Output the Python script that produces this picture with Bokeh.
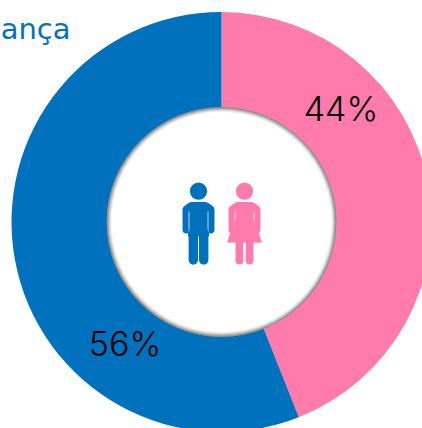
import math
from bokeh.plotting import figure
from bokeh.embed import file_html
from bokeh.resources import INLINE
from bokeh.core.properties import value

labels = ["44%", "56%"]
shares = [44, 56]
colors = ["#FF7BAC", "#0071BC"]
title_text = "ança"
W, H = 422, 428
p = figure(width=W, height=H, x_range=(0, W), y_range=(0, H), toolbar_location=None,
           output_backend="svg", min_border=0, outline_line_color=None,
           background_fill_color="white", border_fill_color="white",
           margin=(0, 0, 0, 0))
p.axis.visible = False
p.grid.visible = False
Y = lambda v: H - v
cx, cy = 221, Y(221.5)
R, r = 210, 114.5

# donut
start = math.pi / 2
for s, c in zip(shares, colors):
    sweep = 2 * math.pi * s / sum(shares)
    p.annular_wedge([cx], [cy], inner_radius=r, outer_radius=R,
                    start_angle=start - sweep, end_angle=start,
                    fill_color=c, line_color=None)
    start -= sweep

# soft shadow of the centre disc
for rad, c in [(115, "#8c8c8c"), (114, "#a6a6a6"), (113, "#c4c4c4"), (112, "#dedede"), (111, "#f2f2f2")]:
    p.circle([cx], [cy], radius=rad, fill_color=c, line_color=None)
p.circle([cx], [cy], radius=110, fill_color="white", line_color=None)

def stroke(xs, ys, color, w):
    p.line(xs, [Y(v) for v in ys], line_color=color, line_width=w, line_cap="round", line_join="round")

def person(x0, color, woman):
    p.circle([x0], [Y(190.7)], radius=8.6, fill_color=color, line_color=None)
    # rounded shoulders and arms
    stroke([x0 - 12, x0 - 12, x0 - 7, x0 + 7, x0 + 12, x0 + 12],
           [229, 209, 205.5, 205.5, 209, 229], color, 8)
    # torso
    p.quad(left=[x0 - 10.5], right=[x0 + 10.5], top=[Y(203)], bottom=[Y(236)], fill_color=color, line_color=None)
    p.quad(left=[x0 - 12], right=[x0 + 12], top=[Y(204)], bottom=[Y(212)], fill_color=color, line_color=None)
    for d in (-1, 1):
        p.line([x0 + d * 9.5] * 2, [Y(211), Y(232)], line_color="white", line_width=1, line_alpha=.7)
    if woman:
        p.patch([x0 + a for a in [-9, 9, 17.5, -17.5]], [Y(b) for b in [219, 219, 242, 242]],
                fill_color=color, line_color=None)
        stroke([x0 - 5.1, x0 - 5.1], [240, 260], color, 7.8)
        stroke([x0 + 5.1, x0 + 5.1], [240, 260], color, 7.8)
    else:
        stroke([x0 - 5.2, x0 - 5.2], [232, 259.5], color, 9.4)
        stroke([x0 + 5.2, x0 + 5.2], [232, 259.5], color, 9.4)

person(198, colors[1], False)
person(244, colors[0], True)

# labels
FONT = value("'Inter Light', 'Inter'")
p.text([340.5], [Y(108)], text=[labels[0]], text_font=FONT, text_font_size="34px",
       text_align="center", text_baseline="alphabetic", text_color="#000000")
p.text([124.5], [Y(343)], text=[labels[1]], text_font=FONT, text_font_size="34px",
       text_align="center", text_baseline="alphabetic", text_color="#000000")
p.text([70], [Y(28)], text=[title_text], text_font=value("DejaVu Sans"), text_font_size="29px",
       text_align="right", text_baseline="alphabetic", text_color=colors[1])

open("out.html", "w").write(file_html(p, INLINE))
